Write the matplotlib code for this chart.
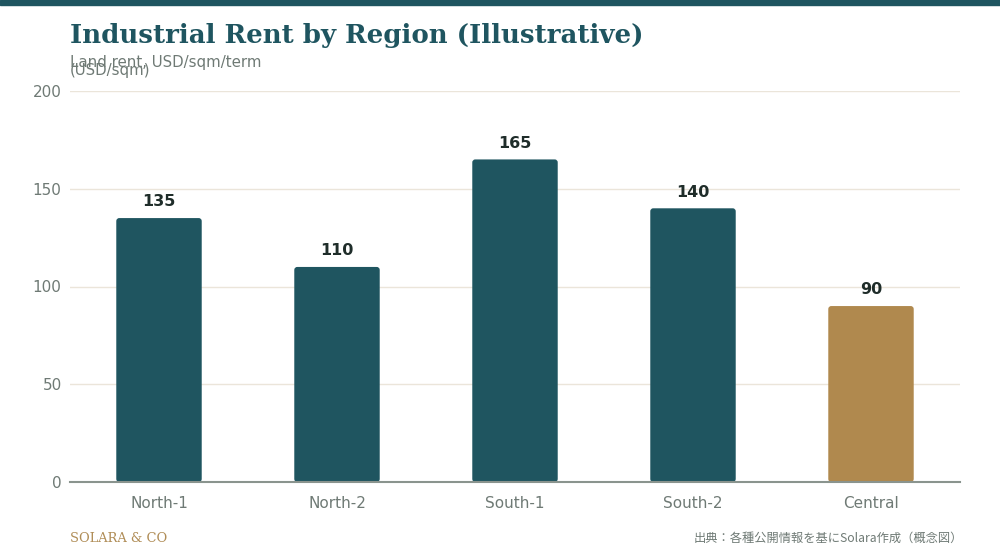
import matplotlib.pyplot as plt
from matplotlib.patches import FancyBboxPatch, Rectangle

regions = ["North-1", "North-2", "South-1", "South-2", "Central"]
rent = [135, 110, 165, 140, 90]
bar_colors = ["#1f5560", "#1f5560", "#1f5560", "#1f5560", "#b0894e"]
yticks = [0, 50, 100, 150, 200]

teal = "#1f5560"
grey = "#6f7a75"

fig = plt.figure(figsize=(10, 5.6), dpi=100)
fig.patches.append(Rectangle((0, 1 - 5 / 560), 1, 5 / 560, transform=fig.transFigure,
                             color=teal, zorder=0))

ax = fig.add_axes([0.07, 78 / 560, 0.89, 391 / 560])
ax.set_xlim(-0.5, 4.5)
ax.set_ylim(0, 200)

width = 0.48
# px per data unit, used to keep the corner rounding circular
px_x = 890 / 5
px_y = 391 / 200
r = 3 / px_x
aspect = (3 / px_y) / r

bars = ax.bar(range(len(regions)), rent, width=width, color=bar_colors)
for b, c in zip(bars, bar_colors):
    b.set_visible(False)
    p = FancyBboxPatch((b.get_x(), 0), b.get_width(), b.get_height(),
                       boxstyle=f"round,pad=0,rounding_size={r}",
                       mutation_aspect=aspect, facecolor=c, edgecolor="none", zorder=2)
    ax.add_patch(p)
    ax.text(b.get_x() + b.get_width() / 2, b.get_height() + 4.5, str(int(b.get_height())),
            ha="center", va="bottom", fontsize=11.5, fontweight="bold", color="#1f2d2a", zorder=3)

ax.set_yticks(yticks)
ax.set_xticks(range(len(regions)))
ax.set_xticklabels(regions)
ax.tick_params(axis="both", length=0, labelsize=11, labelcolor=grey)
ax.tick_params(axis="x", pad=10)
ax.tick_params(axis="y", pad=6)
ax.yaxis.grid(True, color="#ebe5da", linewidth=1, zorder=0)
ax.set_axisbelow(True)
for s in ["top", "right", "left"]:
    ax.spines[s].set_visible(False)
ax.spines["bottom"].set_color("#8a948e")
ax.spines["bottom"].set_linewidth(1.5)
ax.spines["bottom"].set_zorder(4)

fig.text(0.07, 1 - 35 / 560, "Industrial Rent by Region (Illustrative)", family="DejaVu Serif",
         fontweight="bold", fontsize=18.7, color=teal, ha="left", va="center")
fig.text(0.07, 1 - 63 / 560, "Land rent, USD/sqm/term", fontsize=10.8, color=grey,
         ha="left", va="center")
fig.text(0.07, 1 - 71 / 560, "(USD/sqm)", fontsize=10.8, color=grey, ha="left", va="center")

fig.text(0.07, 1 - 538 / 560, "SOLARA & CO", family="DejaVu Serif", fontsize=9.4,
         color="#b08d57", ha="left", va="center")
fig.text(0.963, 1 - 538 / 560, "出典：各種公開情報を基にSolara作成（概念図）",
         family=["Noto Sans CJK JP", "DejaVu Sans"], fontsize=8.8, color=grey,
         ha="right", va="center")

fig.savefig("out.png", dpi=100, facecolor="white")
